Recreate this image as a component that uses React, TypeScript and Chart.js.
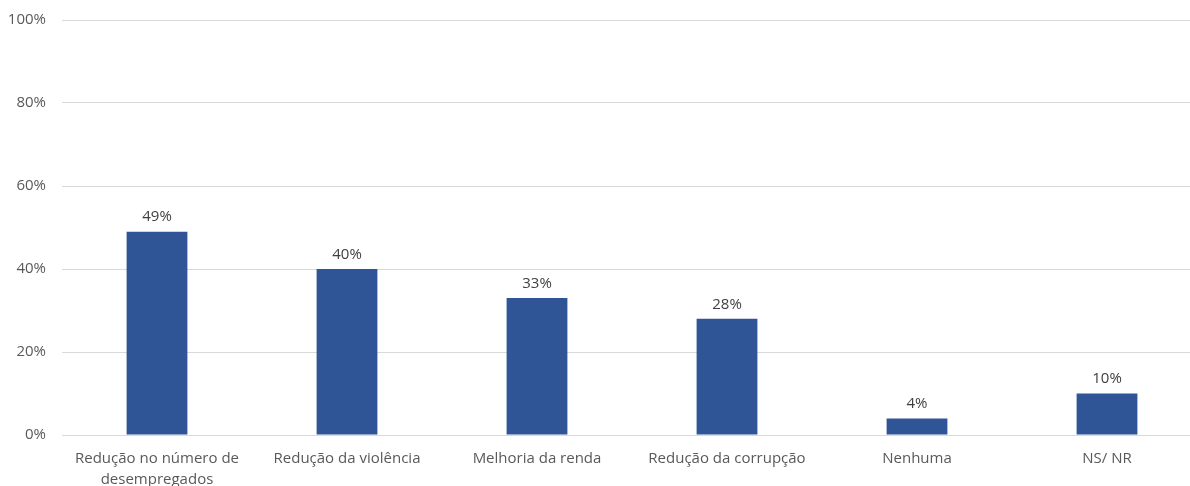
import React, { useEffect, useRef } from "react";
import { Chart, registerables } from "chart.js";

Chart.register(...registerables);

const categories: (string | string[])[] = [
  ["Redução no número de", "desempregados"],
  "Redução da violência",
  "Melhoria da renda",
  "Redução da corrupção",
  "Nenhuma",
  "NS/ NR",
];
const values = [49, 40, 33, 28, 4, 10];
const yTicks = [0, 20, 40, 60, 80, 100];

const FONT = "'Open Sans', 'Liberation Sans', sans-serif";

const valueLabels = {
  id: "valueLabels",
  afterDatasetsDraw(chart: any) {
    const ctx = chart.ctx;
    const meta = chart.getDatasetMeta(0);
    ctx.save();
    ctx.font = `15px ${FONT}`;
    ctx.fillStyle = "#404040";
    ctx.textAlign = "center";
    ctx.textBaseline = "bottom";
    meta.data.forEach((bar: any, i: number) => {
      ctx.fillText(values[i] + "%", bar.x, bar.y - 7);
    });
    ctx.restore();
  },
};

export default function App() {
  const ref = useRef<HTMLCanvasElement>(null);
  useEffect(() => {
    if (!ref.current) return;
    const chart = new Chart(ref.current, {
      type: "bar",
      data: {
        labels: categories,
        datasets: [
          {
            data: values,
            backgroundColor: "#2F5597",
            categoryPercentage: 1,
            barPercentage: 0.32,
          },
        ],
      },
      options: {
        animation: false,
        responsive: false,
        maintainAspectRatio: false,
        layout: { padding: { top: 20, right: 0, left: 0, bottom: 0 } },
        plugins: { legend: { display: false }, tooltip: { enabled: false } },
        scales: {
          x: {
            grid: { display: false },
            border: { display: true, color: "#d9d9d9" },
            ticks: {
              color: "#595959",
              font: { family: FONT, size: 15, lineHeight: 1.35 },
              maxRotation: 0,
              autoSkip: false,
              padding: 6,
            },
            afterFit(scale: any) {
              scale.height = 51;
              scale.paddingLeft = 0;
              scale.paddingRight = 0;
            },
          },
          y: {
            min: 0,
            max: 100,
            afterBuildTicks(scale: any) {
              scale.ticks = yTicks.map((v) => ({ value: v }));
            },
            grid: { color: "#d9d9d9", drawTicks: false },
            border: { display: false },
            ticks: {
              color: "#595959",
              font: { family: FONT, size: 15 },
              padding: 16,
              callback: (v: any) => v + "%",
            },
            afterFit(scale: any) {
              scale.width = 62;
              scale.paddingTop = 0;
              scale.paddingBottom = 0;
            },
          },
        },
      },
      plugins: [valueLabels],
    });
    return () => chart.destroy();
  }, []);
  return (
    <div style={{ position: "fixed", left: 0, top: 0, width: 1190, height: 486, overflow: "hidden", background: "#fff" }}>
      <canvas ref={ref} width={1202} height={486} style={{ display: "block" }} />
    </div>
  );
}
